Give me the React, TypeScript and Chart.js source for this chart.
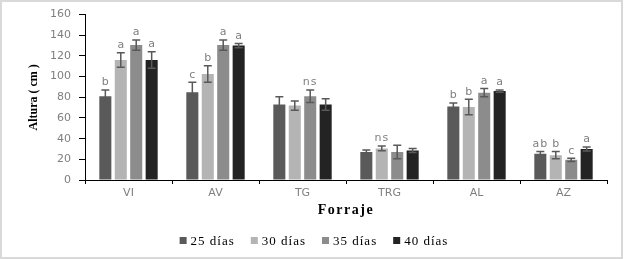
import React, { useEffect, useRef } from "react";
import { Chart, registerables } from "chart.js";

Chart.register(...registerables);

const categories = ["VI", "AV", "TG", "TRG", "AL", "AZ"];
const seriesLabels = ["25 días", "30 días", "35 días", "40 días"];
const d25 = [81, 85, 73, 27, 71, 25.5];
const d30 = [116, 102.5, 72, 30.5, 70.5, 24];
const d35 = [130.5, 130.5, 81, 27, 84.5, 19.5];
const d40 = [116, 130, 73, 28.5, 86, 30];
const e25 = [6, 9.5, 7.5, 2, 3.5, 2];
const e30 = [7, 8, 4.5, 2.3, 7.5, 3.5];
const e35 = [5, 5, 6, 6.5, 4, 1.6];
const e40 = [8, 2, 5.5, 2, 1, 2];
const l25 = ["b", "c", "", "", "b", "ab"];
const l30 = ["a", "b", "", "ns", "b", "b"];
const l35 = ["a", "a", "ns", "", "a", "c"];
const l40 = ["a", "a", "", "", "a", "a"];
const colors = ["#5a5a5a", "#b4b4b4", "#8c8c8c", "#232323"];
const yTicks = [0, 20, 40, 60, 80, 100, 120, 140, 160];

const values = [d25, d30, d35, d40];
const errors = [e25, e30, e35, e40];
const letters = [l25, l30, l35, l40];

const sansFont = "'DejaVu Sans', sans-serif";
const serifFont = "'Liberation Serif', 'Times New Roman', serif";

const extrasPlugin = {
  id: "extras",
  afterDatasetsDraw(chart: any) {
    const ctx = chart.ctx;
    const yScale = chart.scales.y;
    ctx.save();
    values.forEach((_, i) => {
      const meta = chart.getDatasetMeta(i);
      meta.data.forEach((el: any, j: number) => {
        const v = values[i][j];
        const e = errors[i][j];
        const x = el.x;
        const yTop = yScale.getPixelForValue(v + e);
        const yBot = yScale.getPixelForValue(v - e);
        ctx.strokeStyle = "#595959";
        ctx.lineWidth = 1.5;
        ctx.beginPath();
        ctx.moveTo(x, yTop);
        ctx.lineTo(x, yBot);
        ctx.moveTo(x - 4, yTop);
        ctx.lineTo(x + 4, yTop);
        ctx.moveTo(x - 4, yBot);
        ctx.lineTo(x + 4, yBot);
        ctx.stroke();
        const t = letters[i][j];
        if (t) {
          ctx.fillStyle = "#7f7f7f";
          ctx.font = `11px ${sansFont}`;
          ctx.textAlign = "center";
          ctx.textBaseline = "bottom";
          (ctx as any).letterSpacing = t.length > 1 ? "1px" : "0px";
          ctx.fillText(t, x, yTop - 2);
        }
      });
    });
    ctx.restore();
  },
  afterDraw(chart: any) {
    const ctx = chart.ctx;
    const area = chart.chartArea;
    ctx.save();
    // x axis title
    ctx.fillStyle = "#000";
    ctx.font = `bold 14px ${serifFont}`;
    (ctx as any).letterSpacing = "1.5px";
    ctx.textAlign = "center";
    ctx.textBaseline = "middle";
    ctx.fillText("Forraje", (area.left + area.right) / 2, 210);
    // legend
    ctx.font = `13px ${serifFont}`;
    (ctx as any).letterSpacing = "1px";
    const box = 7;
    const gap = 4;
    const itemGap = 16;
    const widths = seriesLabels.map((s) => ctx.measureText(s).width);
    const total =
      widths.reduce((a, b) => a + b, 0) +
      seriesLabels.length * (box + gap) +
      itemGap * (seriesLabels.length - 1);
    let x = 314 - total / 2;
    const cy = 240.5;
    ctx.textAlign = "left";
    seriesLabels.forEach((s, i) => {
      ctx.fillStyle = colors[i];
      ctx.fillRect(x, cy - box / 2, box, box);
      x += box + gap;
      ctx.fillStyle = "#000";
      ctx.fillText(s, x, cy + 1);
      x += widths[i] + itemGap;
    });
    // frame
    (ctx as any).letterSpacing = "0px";
    ctx.strokeStyle = "#d9d9d9";
    ctx.lineWidth = 2;
    ctx.strokeRect(1, 1, chart.width - 3, chart.height - 2);
    ctx.restore();
  },
};

export default function App() {
  const ref = useRef<HTMLCanvasElement | null>(null);
  useEffect(() => {
    if (!ref.current) return;
    const chart = new Chart(ref.current, {
      type: "bar",
      data: {
        labels: categories,
        datasets: values.map((v, i) => ({
          label: seriesLabels[i],
          data: v,
          backgroundColor: colors[i],
          borderWidth: 0,
          barPercentage: 0.78,
          categoryPercentage: 0.71,
        })),
      },
      options: {
        responsive: false,
        animation: false,
        layout: { padding: { left: 0, right: 17, top: 14, bottom: 0 } },
        plugins: {
          legend: { display: false },
          tooltip: { enabled: false },
        },
        scales: {
          x: {
            grid: {
              display: true,
              drawOnChartArea: false,
              drawTicks: true,
              tickLength: 4,
              color: "#000",
              offset: true,
            },
            border: { color: "#000", width: 1 },
            ticks: {
              font: { family: sansFont, size: 11 },
              color: "#7f7f7f",
              padding: 3,
            },
            afterFit: (s: any) => {
              s.height = 79;
            },
          },
          y: {
            min: 0,
            max: 160,
            afterBuildTicks: (s: any) => {
              s.ticks = yTicks.map((v) => ({ value: v }));
            },
            ticks: {
              font: { family: sansFont, size: 11 },
              color: "#7f7f7f",
              padding: 8,
            },
            grid: {
              drawOnChartArea: false,
              drawTicks: true,
              tickLength: 6,
              color: "#000",
            },
            border: { color: "#000", width: 1 },
            title: {
              display: true,
              text: "Altura ( cm )",
              color: "#000",
              font: { family: serifFont, size: 12, weight: "bold" },
              padding: { top: 27, bottom: 0 },
            },
            afterFit: (s: any) => {
              s.width = 85;
            },
          },
        },
      },
      plugins: [extrasPlugin],
    });
    return () => chart.destroy();
  }, []);
  return (
    <div style={{ position: "fixed", left: 0, top: 0, width: 624, height: 259, background: "#fff" }}>
      <canvas ref={ref} width={624} height={259} style={{ display: "block" }} />
    </div>
  );
}
